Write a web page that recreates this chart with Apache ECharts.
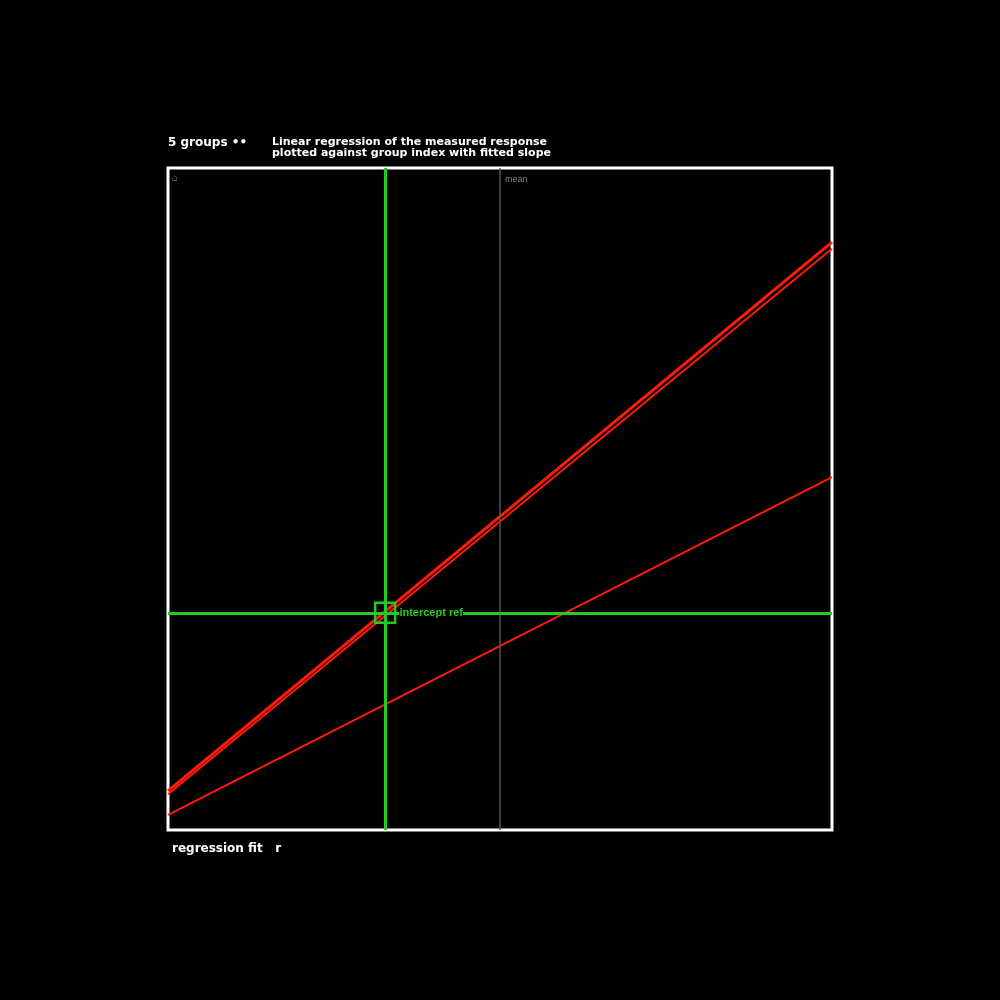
<!DOCTYPE html>
<html><head><meta charset="utf-8">
<script src="https://cdn.jsdelivr.net/npm/echarts@6/dist/echarts.min.js"></script>
<style>html,body{margin:0;padding:0;background:#000}#c{width:1000px;height:1000px}</style>
</head><body><div id="c"></div>
<script>
var xEnds = [0, 100];
var lineA = [5.9, 88.8];
var lineB = [5.4, 87.8];
var lineC = [2.3, 53.3];
var crossPoint = [32.7, 32.8];
var refX = 50;
var titleLeft = '5 groups \u2022\u2022';
var titleRight = 'Linear regression of the measured response\nplotted against group index with fitted slope';
var footText = 'regression fit   r';
var crossLabel = 'intercept ref';
var refLabel = 'mean';
var cornerLabel = '\u2302';

function pairs(ys){ return xEnds.map(function(x,i){ return [x, ys[i]]; }); }
var red = '#ff1a0a', green = '#22cc22';
var chart = echarts.init(document.getElementById('c'));
chart.setOption({
  backgroundColor: '#000',
  animation: false,
  title: [
    {text: titleLeft, left: 163, top: 132, textStyle:{color:'#fff', fontSize:12, fontWeight:'bold', fontFamily:'DejaVu Sans'}},
    {text: titleRight, left: 267, top: 132, textStyle:{color:'#fff', fontSize:11, fontWeight:'bold', lineHeight:11, fontFamily:'DejaVu Sans'}},
    {text: footText, left: 167, top: 838, textStyle:{color:'#fff', fontSize:12, fontWeight:'bold', fontFamily:'DejaVu Sans'}},
    {text: cornerLabel, left: 167, top: 168, textStyle:{color:'#888', fontSize:10, fontWeight:'normal'}}
  ],
  grid: {left:168, top:168, right:168, bottom:170, show:true, borderColor:'#fff', borderWidth:3, backgroundColor:'#000'},
  xAxis: {type:'value', min:0, max:100, show:false},
  yAxis: {type:'value', min:0, max:100, show:false},
  series: [
    {type:'line', data: pairs(lineA), showSymbol:false, lineStyle:{color:red, width:3}, z:3},
    {type:'line', data: pairs(lineB), showSymbol:false, lineStyle:{color:red, width:2}, z:3},
    {type:'line', data: pairs(lineC), showSymbol:false, lineStyle:{color:red, width:2}, z:3},
    {type:'line', data: [], z:2,
      markLine: {silent:true, symbol:['none','none'], animation:false,
        data: [
          {xAxis: refX, lineStyle:{color:'#555', width:1.5, type:'solid'},
           label:{show:true, position:'end', formatter: refLabel, color:'#888', fontSize:9, align:'left', padding:[0,0,0,5], distance:-16}},
          {xAxis: crossPoint[0], lineStyle:{color:green, width:3, type:'solid'}, label:{show:false}},
          {yAxis: crossPoint[1], lineStyle:{color:green, width:3, type:'solid'}, label:{show:false}}
        ]},
      markPoint: {silent:true, animation:false,
        data: [{coord: crossPoint, symbol:'rect', symbolSize:20,
          itemStyle:{color:'rgba(0,0,0,0)', borderColor:green, borderWidth:2.5},
          label:{show:true, position:'right', distance:3, formatter: crossLabel, color:green, fontSize:11, fontWeight:'bold', backgroundColor:'#000'}}]}
    }
  ]
});
</script></body></html>
